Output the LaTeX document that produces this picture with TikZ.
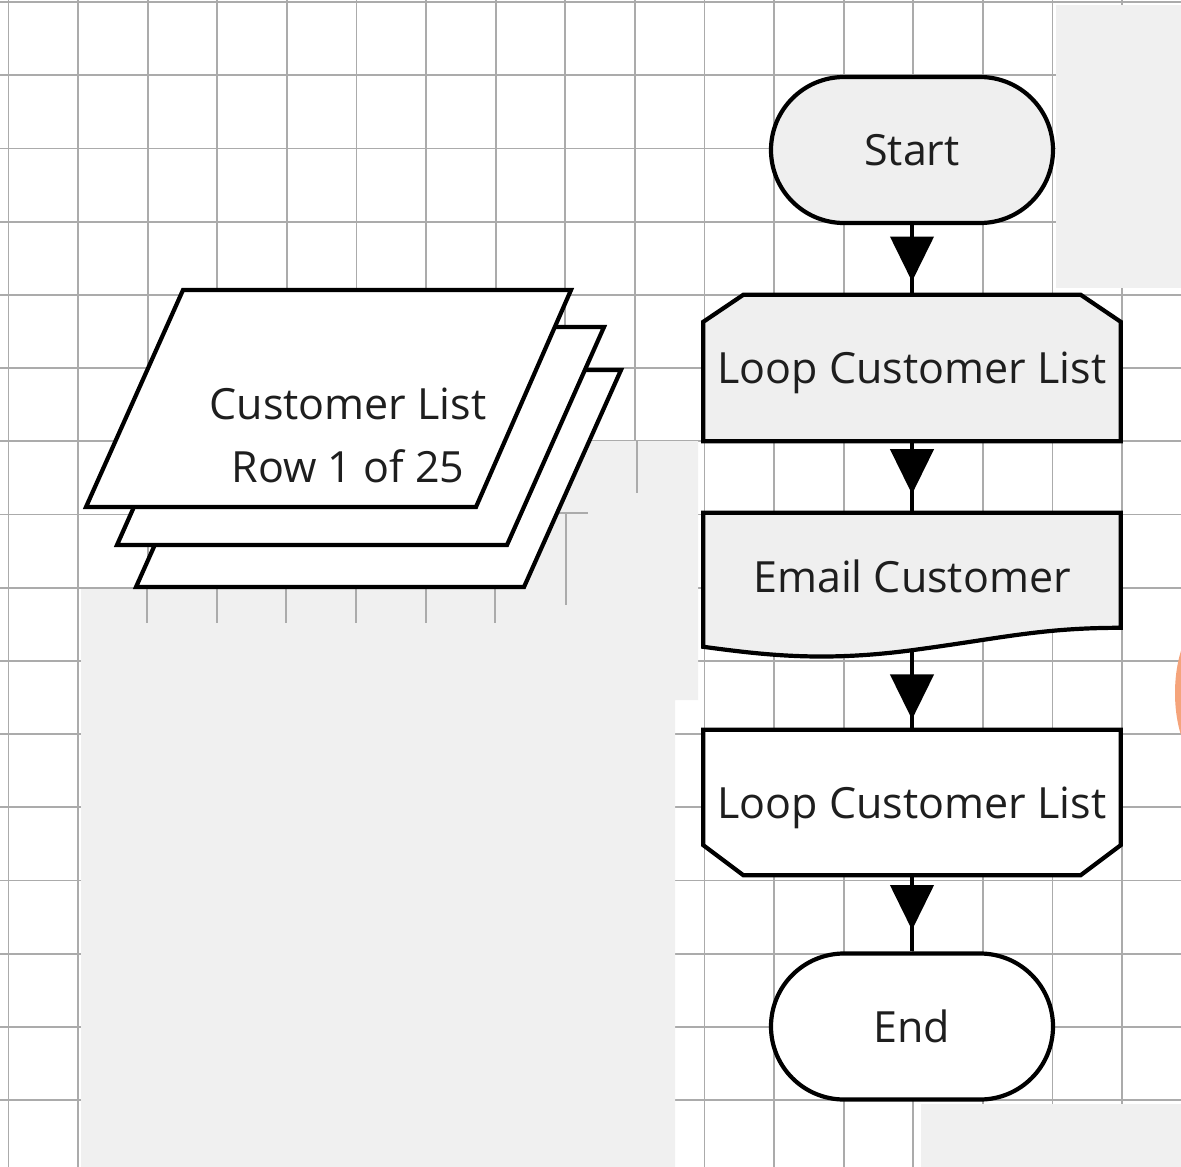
\documentclass[tikz,border=0pt]{standalone}
\usepackage{fontspec}
\setmainfont{Open Sans}
\usetikzlibrary{arrows.meta,decorations.markings}

\definecolor{gridgrey}{HTML}{ABABAB}
\definecolor{panegrey}{HTML}{F0F0F0}
\definecolor{boxgrey}{HTML}{EFEFEF}
\definecolor{bloborange}{HTML}{F5A47B}
\definecolor{inkgrey}{HTML}{1E1E1E}

\pgfdeclarelayer{paper}
\pgfdeclarelayer{shapes}
\pgfsetlayers{paper,shapes,main}

\tikzset{
  gridline/.style={draw=gridgrey, line width=1.8pt},
  outline/.style={line width=4.2pt, line join=miter},
  flowtext/.style={font=\fontsize{43}{63}\selectfont, text=inkgrey,
    text height=31pt, text depth=0pt, inner sep=0pt},
  terminal/.style={flowtext, draw, outline, rounded corners=73pt,
    minimum width=282pt, minimum height=146pt},
  flowbox/.style={flowtext, minimum width=417pt, minimum height=146pt},
  flowarrow/.style={line width=4.2pt, postaction={decorate},
    decoration={markings, mark=at position #1 with {\arrow{Triangle[width=43pt,length=45pt]}}}},
}

\begin{document}
\begin{tikzpicture}[x=1pt,y=-1pt]
  \useasboundingbox (0,0) rectangle (1181,1167);

  % paper with grid
  \begin{pgfonlayer}{paper}
    \fill[white] (0,0) rectangle (1181,1167);
    \foreach \i in {0,...,16}
      \draw[gridline] (8.5+69.6*\i,0) -- (8.5+69.6*\i,1167);
    \foreach \j in {0,...,15}
      \draw[gridline] (0,2+73.2*\j) -- (1181,2+73.2*\j);
    \fill[panegrey] (81,1167) -- (81,589) -- (523,589) -- (589,441) -- (698,441)
      -- (698,700) -- (675,700) -- (675,1167) -- cycle;
    \fill[panegrey] (1056,5) rectangle (1181,288);
    \fill[panegrey] (921,1104) rectangle (1181,1167);
    \foreach \x in {147,217,286,356,426,495}
      \draw[gridline] (\x,587) -- (\x,623);
    \draw[gridline] (566,513) -- (566,605);
    \draw[gridline] (637,441) -- (637,493);
    \draw[gridline] (555,513) -- (588,513);
    \fill[bloborange] (1215,693) ellipse (40 and 80);
  \end{pgfonlayer}

  % customer list stack
  \draw[outline, fill=white] (233,370) -- (621,370) -- (524,587) -- (136,587) -- cycle;
  \draw[outline, fill=white] (214,327) -- (604,327) -- (507,545) -- (117,545) -- cycle;
  \draw[outline, fill=white] (183,290) -- (571,290) -- (476,507) -- (86,507) -- cycle;
  \node[font=\fontsize{43}{63}\selectfont, text=inkgrey, align=center, inner sep=0pt]
    (clist) at (348,435.5) {Customer List\\Row 1 of 25};

  % flow
  \node[terminal, fill=boxgrey] (start) at (912,150) {Start};
  \node[flowbox] (loopa) at (912,368) {Loop Customer List};
  \node[flowbox, minimum height=128pt] (email) at (912,577) {Email Customer};
  \node[flowbox, minimum height=145pt] (loopb) at (912,802.5) {Loop Customer List};
  \node[terminal, fill=white] (finish) at (912,1026.5) {End};

  \begin{pgfonlayer}{shapes}
    \draw[outline, fill=boxgrey] ([yshift=-27pt]loopa.north west) -- ([xshift=40pt]loopa.north west)
      -- ([xshift=-40pt]loopa.north east) -- ([yshift=-27pt]loopa.north east)
      -- (loopa.south east) -- (loopa.south west) -- cycle;
    \draw[outline, fill=boxgrey] (email.north west) -- (email.north east)
      -- ([yshift=-115pt]email.north east)
      .. controls +(-80,0) and +(90,-12) .. ([yshift=-9pt]email.south)
      .. controls +(-90,12) and +(60,8) .. ([yshift=-134pt]email.north west) -- cycle;
    \draw[outline, fill=white] (loopb.north west) -- (loopb.north east)
      -- ([yshift=30pt]loopb.south east) -- ([xshift=-40pt]loopb.south east)
      -- ([xshift=40pt]loopb.south west) -- ([yshift=30pt]loopb.south west) -- cycle;
  \end{pgfonlayer}

  \draw[flowarrow=0.81] (start.south) -- (loopa.north);
  \draw[flowarrow=0.74] (loopa.south) -- (email.north);
  \draw[flowarrow=0.87] ([yshift=-9pt]email.south) -- (loopb.north);
  \draw[flowarrow=0.72] (loopb.south) -- (finish.north);
\end{tikzpicture}
\end{document}
